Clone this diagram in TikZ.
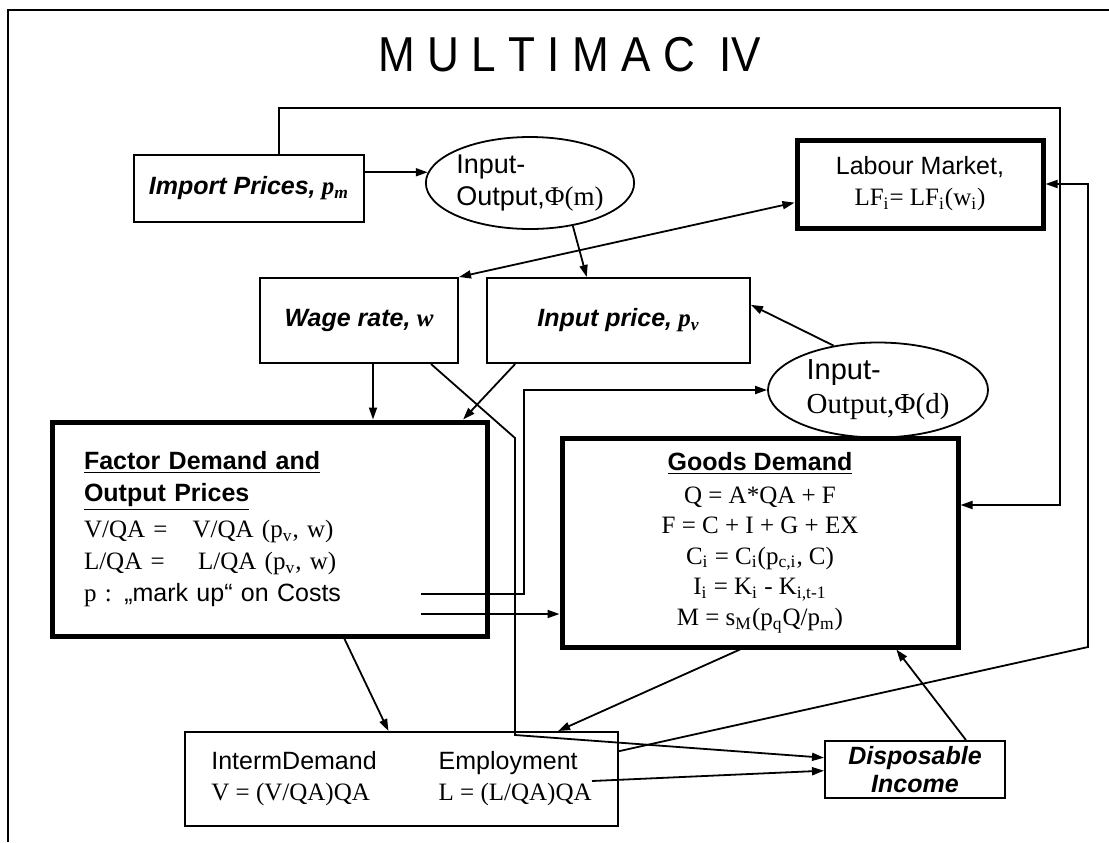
\documentclass[tikz,border=0pt]{standalone}
\usepackage{fontspec}
\setmainfont{Liberation Serif}
\setsansfont{Liberation Sans}
\usetikzlibrary{shapes.geometric,arrows.meta,calc}

\begin{document}
\begin{tikzpicture}[x=0.5pt,y=-0.5pt,every node/.style={font=\fontsize{12.5}{15.5}\selectfont},
  box/.style={draw,line width=1pt,inner sep=0pt},
  bigbox/.style={draw,line width=2.5pt,inner sep=0pt},
  io/.style={draw,ellipse,line width=0.9pt,inner sep=0pt,align=left,font=\fontsize{13.5}{16}\selectfont},
  arr/.style={line width=0.9pt,-{Triangle[length=6pt,width=4pt]}},
  arr2/.style={line width=0.9pt,{Triangle[length=6pt,width=4pt]}-{Triangle[length=6pt,width=4pt]}}]
  \useasboundingbox (0,0) rectangle (1109,842);
  \draw[line width=1pt] (8,842) -- (8,10) -- (1109,10);
  \node[font=\fontsize{24.5}{28}\selectfont\sffamily] (title) at (570,55) {\scalebox{0.9}[1]{M U L T I M A C\ \ IV}};
  % boxes
  \node[box,minimum width=115pt,minimum height=33.5pt] (imp) at (249,188.5) {\textsf{\bfseries\itshape Import Prices,} {\bfseries\itshape p\textsubscript{m}}};
  \node[io,minimum width=92pt,minimum height=46pt] (iom) at (530,183) {\textsf{Input-}\\\textsf{Output,}Φ(m)};
  \node[bigbox,minimum width=123pt,minimum height=44pt,align=center] (lab) at (920,184) {\textsf{Labour Market,}\\LF\textsubscript{i}= LF\textsubscript{i}(w\textsubscript{i})};
  \node[box,minimum width=99pt,minimum height=42.5pt] (wage) at (359,320.5) {\textsf{\bfseries\itshape Wage rate,} {\bfseries\itshape w}};
  \node[box,minimum width=131.5pt,minimum height=42.5pt] (inp) at (618.5,320.5) {\textsf{\bfseries\itshape Input price,} {\bfseries\itshape p\textsubscript{v}}};
  \node[io,minimum width=110pt,minimum height=47.5pt,font=\fontsize{14.5}{17}\selectfont] (iod) at (878,390) {\textsf{Input-}\\Output,Φ(d)};
  \node[bigbox,minimum height=107pt,text width=185.5pt,inner xsep=16pt,align=left,font=\fontsize{12.5}{16}\selectfont] (fac) at (269.5,529) {\textsf{\bfseries\underline{Factor Demand and}}\\\textsf{\bfseries\underline{Output Prices}}\\[2pt]V/QA =\ \ \ V/QA (p\textsubscript{v}, w)\\L/QA =\ \ \ \ L/QA (p\textsubscript{v}, w)\\p : \textsf{„mark up“ on Costs}};
  \node[bigbox,minimum width=198pt,minimum height=104.5pt,align=center,font=\fontsize{12.5}{15.3}\selectfont] (goods) at (760,542.5) {\textsf{\bfseries\underline{Goods Demand}}\\[1pt]Q = A*QA + F\\F = C + I + G + EX\\C\textsubscript{i} = C\textsubscript{i}(p\textsubscript{c,i}, C)\\I\textsubscript{i} = K\textsubscript{i} - K\textsubscript{i,t-1}\\M = s\textsubscript{M}(p\textsubscript{q}Q/p\textsubscript{m})};
  \node[box,minimum width=216.5pt,minimum height=47pt] (interm) at (401.5,779) {\begin{tabular}{@{}l@{\hspace{31pt}}l@{}}\textsf{IntermDemand} & \textsf{Employment}\\V = (V/QA)QA & L = (L/QA)QA\end{tabular}};
  \node[box,minimum width=90pt,minimum height=28.5pt,align=center,font=\fontsize{12.5}{14}\selectfont\sffamily\bfseries\itshape] (disp) at (915,769.5) {Disposable\\Income};
  % connectors
  \coordinate (tl) at (279,108);
  \coordinate (tr) at (1060,108);
  \coordinate (gin) at (1060,505);
  \draw[arr] (imp.north -| tl) -- (tl) -- (tr) -- (gin) -- (goods.east |- gin);
  \draw[arr] (imp.east |- iom.174) -- (iom.174);
  \draw[arr] (iom.-45) -- ($(inp.north west)!.38!(inp.north east)$);
  \draw[arr2] (wage.north east) -- ($(lab.north west)!.7!(lab.south west)$);
  \draw[arr] (iod.135) -- ($(inp.north east)!.32!(inp.south east)$);
  \draw[arr] ($(wage.south west)!.57!(wage.south east)$) coordinate (w1) -- (w1 |- fac.north);
  \draw[arr] ($(inp.south west)!.11!(inp.south east)$) -- ($(fac.north west)!.94!(fac.north east)$);
  \coordinate (d1) at (515,438);
  \coordinate (d2) at (515,735);
  \draw[arr] ($(wage.south west)!.86!(wage.south east)$) -- (d1) -- (d2) -- ($(disp.north west)!.3!(disp.south west)$);
  \coordinate (f1) at (421,594);
  \coordinate (f2) at (524,594);
  \draw[arr] (f1) -- (f2) -- (f2 |- iod.west) -- (iod.west);
  \coordinate (f3) at (421,614);
  \draw[arr] (f3) -- (goods.west |- f3);
  \draw[arr] ($(fac.south west)!.67!(fac.south east)$) -- ($(interm.north west)!.47!(interm.north east)$);
  \draw[arr] ($(goods.south west)!.45!(goods.south east)$) -- ($(interm.north west)!.86!(interm.north east)$);
  \coordinate (e1) at (592,781);
  \draw[arr] (e1) -- ($(disp.north west)!.52!(disp.south west)$);
  \coordinate (lb) at (1088,647);
  \draw[arr] ($(interm.north east)!.21!(interm.south east)$) -- (lb) -- (lb |- lab.east) -- (lab.east);
  \draw[arr] ($(disp.north west)!.78!(disp.north east)$) -- ($(goods.south west)!.84!(goods.south east)$);
\end{tikzpicture}
\end{document}
